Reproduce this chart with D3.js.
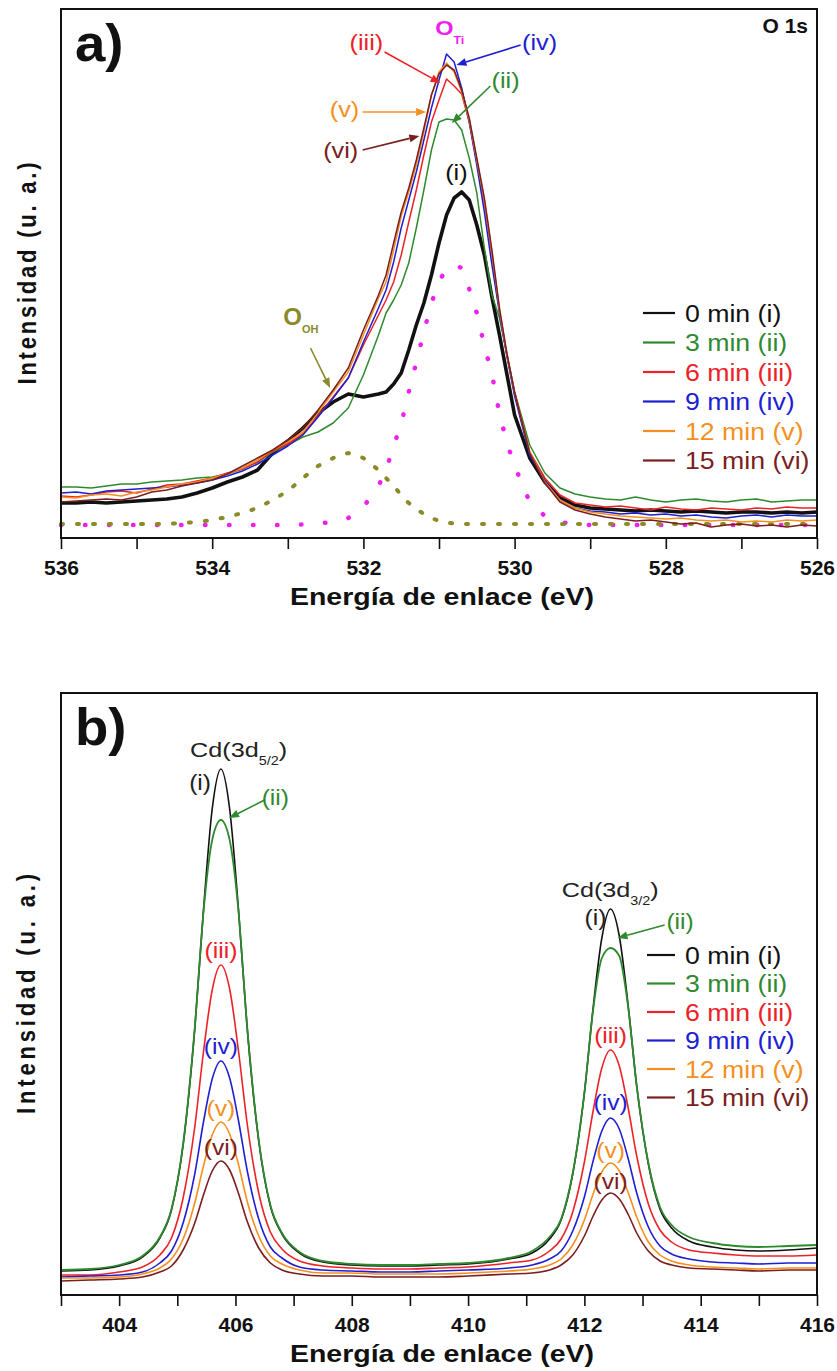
<!DOCTYPE html>
<html><head><meta charset="utf-8">
<script src="https://cdn.jsdelivr.net/npm/d3@7"></script>
<style>body{margin:0;background:#fff}svg{display:block}</style>
</head><body>
<svg id="c" width="837" height="1371"></svg>
<script>
// ---------------- DATA: panel a) O 1s ----------------
const energyO1s = [536.0,535.8,535.6,535.4,535.2,535.0,534.8,534.6,534.4,534.2,534.0,533.8,533.6,533.4,533.2,533.0,532.8,532.6,532.4,532.2,532.0,531.8,
  531.7,531.6,531.5,531.4,531.3,531.2,531.1,531.0,530.9,530.8,530.7,530.6,530.5,530.4,530.3,530.2,530.1,530.0,
  529.8,529.6,529.4,529.2,529.0,528.8,528.6,528.4,528.2,528.0,527.8,527.6,527.4,527.2,527.0,526.8,526.6,526.4,526.2,526.0];
const o1s_0min = [35,35,36,35,36,37,38,39,41,45,50,56,61,68,85,97,110,125,136,144,141,144,
  146,154,165,188,213,235,263,295,323,340,346,338,313,283,241,203,163,123,
  80,56,40,33,30,29,28,27,28,27,26,27,26,25,26,26,25,26,25,26];
const o1s_3min = [51,51,50,52,54,54,56,57,58,60,61,64,69,76,86,93,101,106,115,130,163,203,
  225,238,253,275,310,348,388,416,419,418,408,380,345,290,243,220,183,146,
  93,65,50,44,41,39,38,41,38,36,38,39,37,36,38,39,36,37,38,38];
const o1s_6min = [42,41,43,46,47,45,49,53,54,57,60,65,69,76,87,94,104,122,141,160,193,223,
  238,256,283,316,348,383,416,438,459,452,444,416,376,335,283,226,182,145,
  86,60,43,35,33,31,32,30,28,31,29,28,30,29,28,30,29,31,30,30];
const o1s_9min = [45,46,44,47,48,49,50,51,53,55,58,62,67,74,83,92,103,121,140,160,196,230,
  248,276,310,338,366,398,430,458,484,476,450,416,373,326,273,225,181,142,
  83,57,38,30,27,26,24,25,23,24,22,23,21,20,22,23,21,23,22,22];
const o1s_12min = [41,40,43,44,42,46,48,51,54,56,60,64,70,78,88,96,106,125,146,166,203,240,
  256,288,322,346,373,406,443,466,475,466,446,418,378,338,286,228,183,146,
  86,56,38,30,26,24,22,21,20,19,20,18,17,18,16,17,16,18,17,18];
const o1s_15min = [36,37,38,39,38,41,46,48,52,55,58,64,72,80,88,98,110,128,148,170,208,243,
  263,295,326,350,378,410,443,464,473,468,448,420,380,340,288,230,184,146,
  85,55,36,28,24,21,19,17,18,16,14,15,11,13,14,12,13,11,13,12];
const fitOTi = [13,13,13,13,13,13,13,13,13,13,13,13,13,13,13,13,13.5,14.5,16,20,31,52,
  68,92,114,146,176,206,235,256,270,273,270,249,225,192,164,124,95,72,
  36,22,16,14,13,13,13,13,13,13,13,13,13,13,13,13,13,13,13,13];
const fitOOH = [14,14,14,14,14,14,14,14,15,16,18,21,25,30,38,47,60,72,80,85,80,68,
  60,52,43,35,29,24,20,17,15.5,14.5,14,14,14,14,14,14,14,14,
  14,14,14,14,14,14,14,14,14,14,14,14,14,14,14,14,14,14,14,14];
const ticksO1s = [536,535,534,533,532,531,530,529,528,527,526];

// ---------------- DATA: panel b) Cd 3d ----------------
const energyCd = [403.0,403.5,404.0,404.4,404.7,404.9,405.1,405.3,405.45,405.6,405.75,405.9,406.05,406.2,406.4,406.6,406.8,407.1,407.5,
  408.0,408.5,409.0,409.5,410.0,
  410.7,411.1,411.4,411.6,411.8,412.0,412.15,412.3,412.45,412.6,412.75,412.9,413.1,413.3,413.5,413.8,414.2,
  414.6,415.0,415.5,416.0];
const cd_0min = [24,25,29,38,57,85,150,266,385,486,526,486,387,268,154,89,61,42,33,
  30,29,29,30,31,
  36,42,56,75,121,202,287,357,386,359,291,209,131,86,67,54,48,
  45,44,45,47];
const cd_3min = [25,26,30,39,58,86,151,267,383,455,475,455,385,269,155,90,62,43,34,
  31,30,30,31,32,
  37,44,58,76,122,202,285,337,347,339,289,209,132,88,70,58,52,
  49,48,49,50];
const cd_6min = [20,20,23,28,40,57,97,168,243,305,330,306,245,172,102,63,46,34,29,
  27,26,26,27,28,
  32,35,44,56,83,133,184,227,245,229,188,139,91,65,53,45,42,
  40,39,39,40];
const cd_9min = [18,19,20,23,32,44,72,121,173,216,234,217,175,125,76,48,37,28,25,
  24,23,23,24,25,
  27,30,36,44,64,98,134,164,177,166,137,102,68,49,41,36,33,
  32,31,32,32];
const cd_12min = [17,17,18,21,27,36,56,92,129,160,173,161,131,94,59,39,31,25,22,
  22,21,21,21,22,
  24,26,30,36,50,75,101,123,132,124,103,78,53,40,34,30,28,
  27,26,27,27];
const cd_15min = [14,15,16,18,23,29,45,72,100,124,134,125,102,74,47,32,25,21,19,
  19,18,18,18,19,
  21,22,25,30,40,59,79,95,102,96,81,62,44,34,30,27,26,
  25,24,25,25];
const ticksCd = [403,404,405,406,407,408,409,410,411,412,413,414,415,416];

// ---------------- labels / colours ----------------
const seriesLabels = ["0 min (i)","3 min (ii)","6 min (iii)","9 min (iv)","12 min (v)","15 min (vi)"];
const seriesRoman = ["(i)","(ii)","(iii)","(iv)","(v)","(vi)"];
const seriesColors = ["#111111","#2f8a2f","#ec2227","#1e1ed2","#f5901f","#7b1e1e"];
const fitColors = {OTi:"#f020f0", OOH:"#8a8a28"};
const xTitle = "Energía de enlace (eV)";
const yTitle = "Intensidad  (u. a.)";

// annotation anchors in data units [energy, intensity]
const annA = {
  iii:{t:[531.96,488], a:[[531.72,486],[530.98,455]]},
  iv:{t:[529.67,488], a:[[529.92,493],[530.77,473]]},
  ii:{t:[530.12,450], a:[[530.32,452],[530.83,415]]},
  v:{t:[532.25,421], a:[[532.01,426],[531.17,426]]},
  vi:{t:[532.30,380], a:[[532.01,388],[531.26,402]]},
  i:{t:[530.77,358]},
  OTi:{t:[531.05,503]},
  OOH:{t:[533.06,213], a:[[532.70,190],[532.44,150]]}
};
const annB = {
  cd52:[405.22,538], i1:[405.58,505], ii1:[406.45,490], arr1:[[406.50,495],[405.89,477]],
  p1:[[405.75,337],[405.75,241],[405.75,179],[405.75,140]],
  cd32:[411.61,398], i2:[412.38,370], ii2:[413.41,366], arr2:[[413.38,370],[412.57,357]],
  p2:[[412.45,252],[412.45,185],[412.45,137],[412.45,106]]
};

// ---------------- drawing ----------------
const FONT = "'Liberation Sans', Arial, Helvetica, sans-serif";
const svg = d3.select("#c");
const L = 61, R = 817;

function text(x, y, parts, o) {
  const g = svg.append("g").attr("transform", `translate(${x},${y}) scale(${o.sx||1},1)`);
  const t = g.append("text").attr("font-family", FONT).attr("font-size", o.size)
    .attr("font-weight", o.weight||"normal").attr("fill", o.color||"#111")
    .attr("text-anchor", o.anchor||"start");
  parts.forEach(p => {
    const s = t.append("tspan").text(p.s);
    if (p.size) s.attr("font-size", p.size);
    if (p.dy) s.attr("dy", p.dy);
  });
  return t;
}
function arrow(p1, p2, color) {
  const [x1,y1] = p1, [x2,y2] = p2;
  const dx = x2-x1, dy = y2-y1, len = Math.hypot(dx,dy), ux = dx/len, uy = dy/len;
  const hl = 10, hw = 4;
  const bx = x2 - ux*hl, by = y2 - uy*hl;
  svg.append("line").attr("x1",x1).attr("y1",y1).attr("x2",bx).attr("y2",by)
    .attr("stroke",color).attr("stroke-width",1.6);
  svg.append("path").attr("d", `M${x2},${y2}L${bx-uy*hw},${by+ux*hw}L${bx+uy*hw},${by-ux*hw}Z`).attr("fill",color);
}

function panel(cfg) {
  const x = d3.scaleLinear().domain(cfg.xDomain).range([L, R]);
  const y = d3.scaleLinear().domain(cfg.yDomain).range([cfg.bottom, cfg.top]);
  const line = d3.line().x(d => x(d[0])).y(d => y(d[1])).curve(cfg.curve);
  (cfg.fits||[]).forEach(f => {
    svg.append("path").datum(cfg.energy.map((e,i)=>[e,f.values[i]])).attr("d", line)
      .attr("fill","none").attr("stroke",f.color).attr("stroke-width",f.w)
      .attr("stroke-linecap","round").attr("stroke-dasharray",f.dash);
  });
  cfg.series.forEach((s,k) => {
    svg.append("path").datum(cfg.energy.map((e,i)=>[e,s[i]])).attr("d", line)
      .attr("fill","none").attr("stroke",seriesColors[k])
      .attr("stroke-width", cfg.widths[k]).attr("stroke-linejoin","round");
  });
  const ax = d3.axisBottom(x).tickValues(cfg.ticks).tickSize(11).tickSizeOuter(0)
    .tickFormat(d => d % 2 === 0 ? d : "");
  const g = svg.append("g").attr("transform", `translate(0,${cfg.bottom})`).call(ax);
  g.select(".domain").remove();
  g.selectAll(".tick line").attr("stroke","#111").attr("stroke-width",1.6);
  g.selectAll(".tick text").attr("font-family",FONT).attr("font-weight","bold")
    .attr("font-size",21).attr("fill","#111").attr("dy",null).attr("y",37);
  svg.append("rect").attr("x",L).attr("y",cfg.top).attr("width",R-L).attr("height",cfg.bottom-cfg.top)
    .attr("fill","none").attr("stroke","#111").attr("stroke-width",2);
  text((L+R)/2+3, cfg.bottom+67, [{s:xTitle}], {size:23, weight:"bold", anchor:"middle", sx:1.24});
  svg.append("text").attr("transform", `translate(${cfg.yTitleX},${(cfg.top+cfg.bottom)/2}) rotate(-90) scale(1,1.15)`)
    .attr("font-family",FONT).attr("font-weight","bold").attr("font-size",22).attr("fill","#111")
    .attr("text-anchor","middle").attr("textLength",cfg.yTitleLen).text(yTitle);
  text(L+14, cfg.top+52, [{s:cfg.letter}], {size:52, weight:"bold", sx:1.05});
  seriesLabels.forEach((lab,k) => {
    const cy = cfg.legY + k*cfg.legStep;
    svg.append("line").attr("x1",cfg.legX1).attr("x2",675).attr("y1",cy).attr("y2",cy)
      .attr("stroke",seriesColors[k]).attr("stroke-width",2.2);
    text(685, cy+8.5, [{s:lab}], {size:23, color:seriesColors[k], sx:1.16});
  });
  return {x, y};
}

// panel a
const pa = panel({
  xDomain:[536,526], yDomain:[0,529], top:9, bottom:538, energy:energyO1s,
  series:[o1s_0min,o1s_3min,o1s_6min,o1s_9min,o1s_12min,o1s_15min],
  widths:[3.6,1.5,1.5,1.5,1.5,1.5], curve:d3.curveLinear, ticks:ticksO1s,
  fits:[{values:fitOTi,color:fitColors.OTi,w:4.5,dash:"0.5 23.5"},{values:fitOOH,color:fitColors.OOH,w:4,dash:"2 14"}],
  letter:"a)", legY:313, legStep:29.5, legX1:643, yTitleX:36, yTitleLen:222
});
text(808, 33, [{s:"O 1s"}], {size:20, weight:"bold", anchor:"end", sx:1.05});
{
  const P = p => [pa.x(p[0]), pa.y(p[1])];
  const lab = (key, k, anchor) => {
    const [tx,ty] = P(annA[key].t);
    text(tx, ty, [{s:seriesRoman[k]}], {size:22, color:seriesColors[k], anchor:anchor||"middle", sx:1.15});
    if (annA[key].a) arrow(P(annA[key].a[0]), P(annA[key].a[1]), seriesColors[k]);
  };
  lab("iii",2); lab("iv",3); lab("ii",1); lab("v",4); lab("vi",5); lab("i",0);
  const [ox,oy] = P(annA.OTi.t);
  text(ox, oy, [{s:"O"},{s:"Ti",size:11,dy:9}], {size:21, weight:"bold", color:fitColors.OTi, sx:1.12});
  const [hx,hy] = P(annA.OOH.t);
  text(hx, hy, [{s:"O"},{s:"OH",size:11,dy:8}], {size:24, weight:"bold", color:fitColors.OOH, sx:1.0});
  arrow(P(annA.OOH.a[0]), P(annA.OOH.a[1]), fitColors.OOH);
}

// panel b
const pb = panel({
  xDomain:[403,416], yDomain:[0,602], top:693, bottom:1295, energy:energyCd,
  series:[cd_0min,cd_3min,cd_6min,cd_9min,cd_12min,cd_15min],
  widths:[1.6,1.8,1.6,1.6,1.6,1.6], curve:d3.curveMonotoneX, ticks:ticksCd,
  letter:"b)", legY:955, legStep:28.5, legX1:647, yTitleX:35, yTitleLen:240
});
{
  const P = p => [pb.x(p[0]), pb.y(p[1])];
  const cd = (pos, sub) => {
    const [tx,ty] = P(pos);
    text(tx, ty, [{s:"Cd(3d"},{s:sub,size:12,dy:8},{s:")",dy:-8}], {size:21, color:"#222", sx:1.2});
  };
  cd(annB.cd52, "5/2"); cd(annB.cd32, "3/2");
  const rom = (pos, k, anchor) => {
    const [tx,ty] = P(pos);
    text(tx, ty, [{s:seriesRoman[k]}], {size:22, color:k===0?"#222":seriesColors[k], anchor, sx:1.12});
  };
  rom(annB.i1,0,"end"); rom(annB.ii1,1,"start"); rom(annB.i2,0,"end"); rom(annB.ii2,1,"start");
  arrow(P(annB.arr1[0]), P(annB.arr1[1]), seriesColors[1]);
  arrow(P(annB.arr2[0]), P(annB.arr2[1]), seriesColors[1]);
  annB.p1.forEach((p,j) => rom(p, j+2, "middle"));
  annB.p2.forEach((p,j) => rom(p, j+2, "middle"));
}
</script>
</body></html>
